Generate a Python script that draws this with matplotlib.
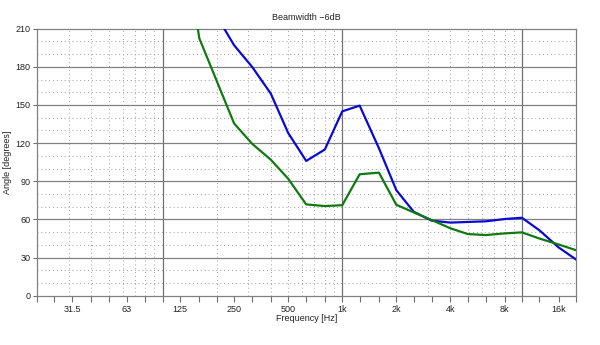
import numpy as np
import matplotlib.pyplot as plt

plt.rcParams['font.family'] = ['Liberation Sans', 'DejaVu Sans']

# 1/3-octave centre frequencies (Hz) and -6 dB beamwidth (degrees)
freq_blue = [160, 200, 250, 315, 400, 500, 630, 800, 1000, 1250, 1600, 2000,
             2500, 3150, 4000, 5000, 6300, 8000, 10000, 12500, 16000, 20000]
beam_blue = [260, 220, 197, 180, 159, 128, 106, 115, 145, 149.5, 116, 83,
             66, 59, 57.5, 58, 58.5, 60.3, 61.3, 51.5, 38, 28.5]

freq_green = [125, 160, 200, 250, 315, 400, 500, 630, 800, 1000, 1250, 1600,
              2000, 2500, 3150, 4000, 5000, 6300, 8000, 10000, 12500, 16000, 20000]
beam_green = [305, 202.5, 169, 135.5, 119.5, 107, 92, 71.8, 70.5, 71.2, 95.5, 96.8,
              71.5, 65.5, 59.5, 53, 48.5, 47.7, 49, 49.8, 45, 40.3, 35.8]

third_oct = [20, 25, 31.5, 40, 50, 63, 80, 100, 125, 160, 200, 250, 315, 400,
             500, 630, 800, 1000, 1250, 1600, 2000, 2500, 3150, 4000, 5000,
             6300, 8000, 10000, 12500, 16000, 20000]
label_freqs = [31.5, 63, 125, 250, 500, 1000, 2000, 4000, 8000, 16000]
label_text = ['31.5', '63', '125', '250', '500', '1k', '2k', '4k', '8k', '16k']

fig = plt.figure(figsize=(6, 3.45), dpi=100)
ax = fig.add_axes([0.0617, 0.1429, 0.8983, 0.7739])
ax.set_xscale('log')
ax.set_xlim(20, 20000)
ax.set_ylim(0, 210)

# grid: solid at decades / every 30 deg, dotted in between
for dec in [100, 1000, 10000]:
    ax.axvline(dec, color='#707070', lw=0.9, zorder=1)
for d in [10, 100, 1000, 10000]:
    for m in range(2, 10):
        f = d * m
        if 20 < f < 20000:
            ax.axvline(f, color='#a0a0a0', lw=0.7, ls=(0, (1, 3)), zorder=1)
for a in range(10, 210, 10):
    if a % 30 == 0:
        ax.axhline(a, color='#808080', lw=0.9, zorder=1)
    else:
        ax.axhline(a, color='#999999', lw=0.7, ls=(0, (1, 3)), zorder=1)

ax.plot(freq_blue, beam_blue, color='#0a0ad2', lw=1.6, zorder=3)
ax.plot(freq_green, beam_green, color='#107a10', lw=1.6, zorder=3)

ax.xaxis.set_major_locator(plt.FixedLocator(label_freqs))
ax.xaxis.set_major_formatter(plt.FixedFormatter(label_text))
ax.xaxis.set_minor_locator(plt.FixedLocator([f for f in third_oct if f not in label_freqs]))
ax.xaxis.set_minor_formatter(plt.NullFormatter())
ax.set_yticks(np.arange(0, 211, 30))

ax.tick_params(axis='x', which='both', direction='out', length=4, width=0.8,
               color='#707070', labelsize=6.5, labelcolor='#222222', pad=3)
ax.tick_params(axis='y', which='both', direction='out', length=3, width=0.8,
               color='#707070', labelsize=6.5, labelcolor='#222222', pad=1.5)
for s in ax.spines.values():
    s.set_color('#808080')
    s.set_linewidth(0.9)

ax.set_title('Beamwidth \u22126dB', fontsize=6.5, color='#222222', pad=6)
ax.set_xlabel('Frequency [Hz]', fontsize=6.5, color='#222222', labelpad=0)
ax.set_ylabel('Angle [degrees]', fontsize=6.5, color='#222222')
ax.yaxis.set_label_coords(-0.046, 0.5)

fig.savefig('out.png', dpi=100)
